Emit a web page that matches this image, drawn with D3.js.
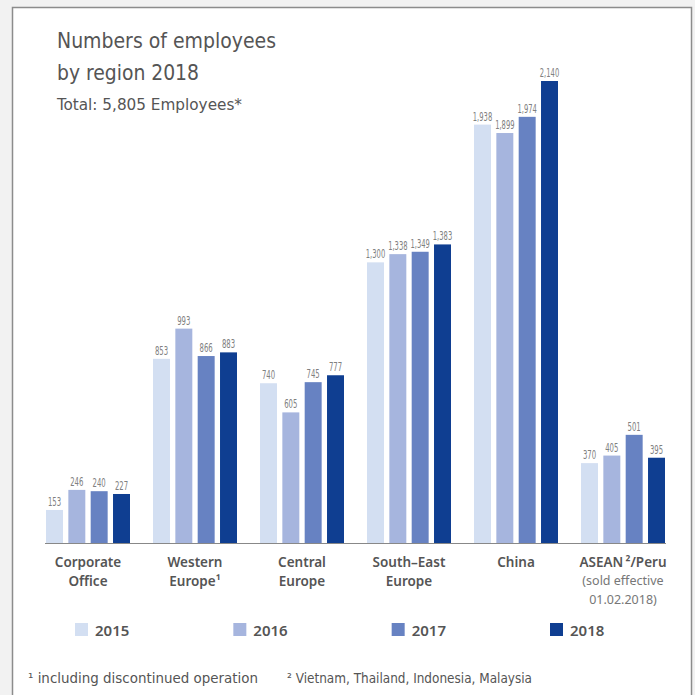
<!DOCTYPE html>
<html lang="en">
<head>
<meta charset="UTF-8">
<script src="https://d3js.org/d3.v7.min.js"></script>
<style>
  body { margin: 0; background: #f2f2f2; }
  svg { display: block; }
</style>
</head>
<body>
<script>
// data
const regions = ["Corporate Office", "Western Europe", "Central Europe", "South-East Europe", "China", "ASEAN/Peru"];
const years = ["2015", "2016", "2017", "2018"];
const v2015 = [153, 853, 740, 1300, 1938, 370];
const v2016 = [246, 993, 605, 1338, 1899, 405];
const v2017 = [240, 866, 745, 1349, 1974, 501];
const v2018 = [227, 883, 777, 1383, 2140, 395];
const colors = ["#d3dff2", "#a6b5de", "#6782c2", "#0f3e91"];

const series = [v2015, v2016, v2017, v2018];
const rows = regions.map((r, i) => ({ region: r, values: years.map((y, j) => ({ year: y, value: series[j][i] })) }));

const w = 695, h = 695;
const baseY = 543;

const svg = d3.select("body").append("svg").attr("width", w).attr("height", h);

// frame
svg.append("rect").attr("x", 12.5).attr("y", 7.5).attr("width", 679).attr("height", 700)
  .attr("fill", "#fff").attr("stroke", "#8c8c8c").attr("stroke-width", 1.5);

// titles (narrow font, squeezed to the reference widths)
const narrow = "'DejaVu Sans Condensed', 'Liberation Sans Narrow', Roboto, sans-serif";
function narrowText(x, yy, size, len, txt, fill) {
  return svg.append("text").attr("x", x).attr("y", yy).attr("font-family", narrow)
    .attr("font-size", size).attr("fill", fill || "#555")
    .attr("textLength", len).attr("lengthAdjust", "spacingAndGlyphs").text(txt);
}
narrowText(57, 48, 22, 219, "Numbers of employees");
narrowText(57, 80, 22, 142, "by region 2018");
narrowText(57, 110, 15, 185, "Total:  5,805 Employees*");

// scales
const x0 = d3.scaleBand().domain(regions).range([46, 665]).paddingInner(0.215);
const x1 = d3.scaleBand().domain(years).range([0, x0.bandwidth()]).paddingInner(0.24);
const y = d3.scaleLinear().domain([0, 2140]).range([baseY, 81]);
const color = d3.scaleOrdinal().domain(years).range(colors);

const groups = svg.selectAll("g.grp").data(rows).enter().append("g")
  .attr("class", "grp").attr("transform", d => "translate(" + x0(d.region) + ",0)");

groups.selectAll("rect").data(d => d.values).enter().append("rect")
  .attr("x", d => x1(d.year)).attr("y", d => y(d.value))
  .attr("width", x1.bandwidth()).attr("height", d => baseY - y(d.value))
  .attr("fill", d => color(d.year));

const fmt = d3.format(",");
// label width: narrow digits, thin comma
const labLen = s => s.replace(/,/g, "").length * 4.4 + (s.includes(",") ? 1.8 : 0);
groups.selectAll("text.val").data(d => d.values).enter().append("text")
  .attr("class", "val")
  .attr("x", d => x1(d.year) + x1.bandwidth() / 2).attr("y", d => y(d.value) - 4)
  .attr("text-anchor", "middle").attr("font-family", narrow)
  .attr("font-size", 11.5).attr("fill", "#808080")
  .attr("textLength", d => labLen(fmt(d.value)))
  .attr("lengthAdjust", "spacingAndGlyphs")
  .text(d => fmt(d.value));

// axis line
svg.append("line").attr("x1", 45).attr("x2", 666).attr("y1", baseY + 0.5).attr("y2", baseY + 0.5)
  .attr("stroke", "#888").attr("stroke-width", 1.2);

// category labels
const catLines = [["Corporate", "Office"], ["Western", "Europe\u00b9"], ["Central", "Europe"],
  ["South\u2013East", "Europe"], ["China"], ["ASEAN\u2009\u00b2/Peru"]];
const labFont = "'Noto Sans', sans-serif";
regions.forEach((r, i) => {
  const cx = x0(r) + x0.bandwidth() / 2;
  const t = svg.append("text").attr("text-anchor", "middle").attr("font-family", labFont)
    .attr("font-size", 13.5).attr("font-weight", 600).attr("fill", "#555");
  catLines[i].forEach((line, k) => {
    t.append("tspan").attr("x", cx).attr("y", 567 + k * 19).text(line);
  });
});
const aseanX = x0("ASEAN/Peru") + x0.bandwidth() / 2;
svg.append("text").attr("text-anchor", "middle").attr("font-family", labFont)
  .attr("font-size", 12.5).attr("fill", "#777")
  .selectAll("tspan").data(["(sold effective", "01.02.2018)"]).enter().append("tspan")
  .attr("x", aseanX).attr("y", (d, k) => 585 + k * 19).text(d => d);

// legend
const legX = d3.scalePoint().domain(years).range([75, 550]);
const leg = svg.selectAll("g.leg").data(years).enter().append("g").attr("class", "leg")
  .attr("transform", d => "translate(" + legX(d) + ",623)");
leg.append("rect").attr("width", 13).attr("height", 13).attr("fill", d => color(d));
leg.append("text").attr("x", 20).attr("y", 12.5).attr("font-family", labFont)
  .attr("font-size", 15).attr("font-weight", 600).attr("fill", "#555").text(d => d);

// footnotes
narrowText(28, 683, 14.5, 230, "\u00b9 including discontinued operation");
narrowText(287, 683, 14.5, 245, "\u00b2  Vietnam, Thailand, Indonesia, Malaysia");
</script>
</body>
</html>
